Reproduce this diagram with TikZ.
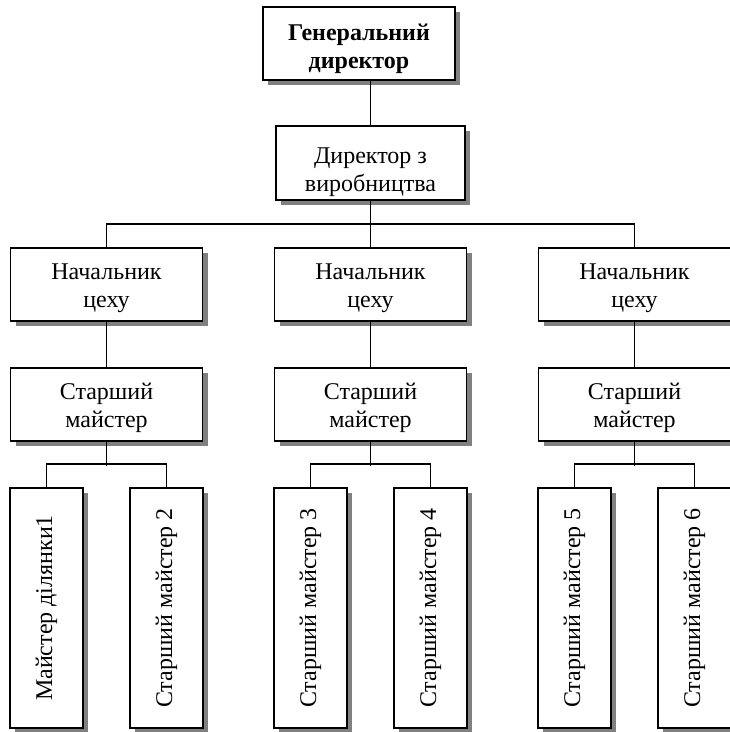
\documentclass[tikz,border=0pt]{standalone}
\usepackage{fontspec}
\setmainfont{Liberation Serif}
\usetikzlibrary{shadows}

\newcommand{\topgap}[1]{\rule{0pt}{#1}}

\tikzset{
    box/.style={draw, line width=1.6pt, fill=white, align=center,
        inner sep=0pt, minimum width=192pt, minimum height=73pt,
        font=\fontsize{24}{28}\selectfont,
        drop shadow={shadow xshift=5pt, shadow yshift=-5pt, fill=black!50, opacity=1}},
    leafbox/.style={box, rotate=90, minimum width=240pt, minimum height=73pt},
    link/.style={line width=1.6pt}
}

\begin{document}
\begin{tikzpicture}[x=1pt, y=1pt]
        \useasboundingbox (0,0) rectangle (730,732);

        \node[box, font=\fontsize{24}{28}\selectfont\bfseries] (gen) at (359,688.5) {\topgap{28pt}Генеральний\\директор};
        \node[box, minimum width=189pt, minimum height=74pt] (dir) at (370.5,569) {\topgap{35pt}Директор з\\виробництва};

        \node[box] (chief1) at (106.5,447.5) {\topgap{24pt}Начальник\\цеху};
        \node[box] (chief2) at (370.5,447.5) {\topgap{24pt}Начальник\\цеху};
        \node[box] (chief3) at (634.5,447.5) {\topgap{24pt}Начальник\\цеху};

        \node[box] (senior1) at (106.5,327.5) {\topgap{24pt}Старший\\майстер};
        \node[box] (senior2) at (370.5,327.5) {\topgap{24pt}Старший\\майстер};
        \node[box] (senior3) at (634.5,327.5) {\topgap{24pt}Старший\\майстер};

        \node[leafbox] (leaf1) at (46.5,124) {Майстер ділянки1};
        \node[leafbox] (leaf2) at (166.5,124) {Старший майстер 2};
        \node[leafbox] (leaf3) at (310.5,124) {Старший майстер 3};
        \node[leafbox] (leaf4) at (430.5,124) {Старший майстер 4};
        \node[leafbox] (leaf5) at (574.5,124) {Старший майстер 5};
        \node[leafbox] (leaf6) at (694.5,124) {Старший майстер 6};

        \coordinate (bus) at (370.5,508);

        \draw[link] (dir.north |- gen.south) -- (dir.north);
        \draw[link] (dir.south) -- (chief2.north);
        \draw[link] (chief1.north) |- (bus) -| (chief3.north);

        \foreach \i/\a/\b in {1/1/2, 2/3/4, 3/5/6} {
            \draw[link] (chief\i.south) -- (senior\i.north);
            \draw[link] (leaf\a.east) -- ++(0,23) -| (leaf\b.east);
            \draw[link] (senior\i.south) -- ++(0,-24);
        }

    \end{tikzpicture}
\end{document}
